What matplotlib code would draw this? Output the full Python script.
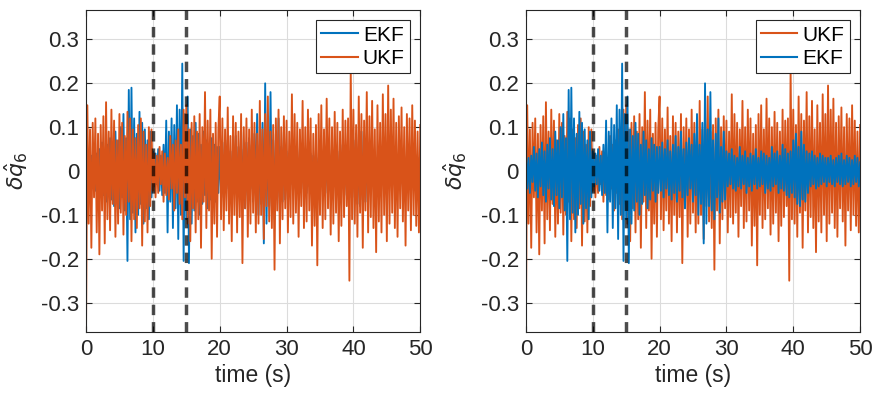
import numpy as np
import matplotlib
matplotlib.use('Agg')
import matplotlib.pyplot as plt

plt.rcParams['font.family'] = ['Liberation Sans', 'DejaVu Sans']

# sampling step of the estimates (s)
dt = 0.2

# estimation error, thousandths
ukf = [
    -367, 150, -120, 95, -175, 110, -60, 120, -140, 85, -190, 105, -90, 125, -165, 157, -110, 90, -135, 140, -75, 115, -150, 70, -120,
    130, -95, 110, -145, 80, -100, 135, -70, 120, -160, 95, -110, 75, -130, 105, -85, 120, -170, 90, -115, 60, -140, 100, -80, 95,
    -45, 40, -60, 35, -50, 55, -30, 45, -70, 40, -55, 30, -65, 80, -40, 60, -90, 70, -50, 95, -75, 60, -110, 140, -60,
    150, -120, 95, -160, 110, -85, 125, -140, 90, -110, 130, -175, 100, -70, 180, -130, 115, -90, 140, -200, 85, -120, 110, -150, 95,
    170, -110, 120, -135, 95, -90, 145, -120, 80, -160, 125, -100, 110, -140, 90, -105, 130, -210, 100, -85, 120, -150, 95, -120, 140,
    -95, 110, -140, 85, -120, 160, -100, 95, -155, 130, -80, 170, -115, 90, -130, 105, -225, 120, -90, 140, -165, 100, -110, 125, -85,
    115, -140, 90, -105, 175, -120, 130, -95, 110, -150, 95, -80, 160, -130, 100, -115, 140, -90, 120, -170, 85, -125, 105, -215, 130,
    -100, 150, -130, 95, -110, 165, -85, 120, -145, 100, -120, 135, -95, 110, -160, 90, -125, 140, -105, 115, -80, 120, -250, 232, -110,
    140, -120, 105, -150, 170, -95, 130, -175, 115, -90, 180, -140, 125, -105, 160, -130, 95, -185, 150, -115, 110, -140, 175, -100, 130,
    -160, 195, -120, 140, -95, 165, -130, 110, -150, 125, -85, 145, -115, 100, -170, 130, -90, 120, -135, 150, -100, 115, -125, 90, -140, 105,
]
ekf = [
    45, -40, 30, -50, 35, -25, 55, -45, 40, -60, 50, -35, 65, -55, 45, -70, 60, -40, 75, -65, 50, -80, 90, -55, 70,
    -85, 100, -60, 130, -90, 75, -205, 185, -110, 190, -95, 120, -140, 85, -100, 135, -75, 110, -120, 95, -85, 70, -110, 90, -60,
    45, -35, 40, -30, 50, -45, 35, -55, 60, -50, 115, -140, 90, -70, 120, -130, 105, -85, 150, -155, 140, -100, 245, -205, 130,
    -110, 170, -210, 95, -120, 80, -90, 110, -70, 85, -100, 60, -75, 90, -55, 70, -85, 50, -65, 75, -45, 60, -70, 55, -50,
    55, -45, 65, -60, 50, -40, 70, -55, 45, -65, 60, -50, 80, -70, 55, -45, 90, -60, 50, -85, 65, -55, 75, -40, 60,
    -70, 85, -55, 130, -100, 60, -75, 110, -165, 200, -120, 95, -80, 180, -90, 70, -110, 85, -60, 120, -95, 55, -70, 90, -65,
    45, -35, 40, -30, 50, -40, 35, -45, 30, -35, 55, -40, 35, -30, 45, -50, 30, -35, 40, -45, 35, -30, 50, -40, 30,
    -35, 45, -30, 40, -50, 35, -40, 30, -45, 55, -35, 40, -30, 45, -50, 35, -40, 60, -45, 50, -55, 40, -60, 45, -50,
    70, -60, 85, -75, 55, -80, 90, -65, 60, -70, 45, -50, 40, -35, 45, -30, 35, -40, 30, -35, 40, -30, 35, -25, 30,
    -35, 30, -25, 35, -30, 25, -35, 30, -25, 35, -30, 40, -35, 25, -30, 35, -25, 30, -35, 25, -30, 35, -25, 30, -35, 20,
]
event_times = [10, 15]
xticks = [0, 10, 20, 30, 40, 50]
yticks = [-0.3, -0.2, -0.1, 0, 0.1, 0.2, 0.3]

ukf = np.array(ukf) / 1000.0
ekf = np.array(ekf) / 1000.0
t = np.arange(len(ukf)) * dt

c_ekf = '#0072BD'
c_ukf = '#D95319'
dark = '#262626'

fig = plt.figure(figsize=(8.75, 3.95), dpi=100)
ax1 = fig.add_axes([0.0983, 0.1595, 0.382, 0.815])
ax2 = fig.add_axes([0.601, 0.1595, 0.382, 0.815])

lw = 1.35
ax1.plot(t, ekf, color=c_ekf, lw=lw, label='EKF')
ax1.plot(t, ukf, color=c_ukf, lw=lw, label='UKF')
ax2.plot(t, ukf, color=c_ukf, lw=lw, label='UKF')
ax2.plot(t, ekf, color=c_ekf, lw=lw, label='EKF')

for ax in (ax1, ax2):
    for te in event_times:
        ax.axvline(te, color='k', alpha=0.7, lw=2.5, dashes=(3, 2), zorder=5)
    ax.set_xlim(0, 50)
    ax.set_ylim(-0.367, 0.367)
    ax.set_xticks(xticks)
    ax.set_yticks(yticks)
    ax.set_yticklabels(['-0.3', '-0.2', '-0.1', '0', '0.1', '0.2', '0.3'])
    ax.grid(True, color='#dcdcdc', lw=0.8)
    ax.set_axisbelow(True)
    ax.tick_params(direction='in', top=True, right=True, labelsize=16,
                   colors=dark, length=4, width=0.8, pad=5)
    for s in ax.spines.values():
        s.set_color(dark)
        s.set_linewidth(0.8)
    ax.set_xlabel('time (s)', fontsize=16.5, color=dark, labelpad=3)
    ax.set_ylabel(r'$\delta\hat{q}_6$', fontsize=16, color=dark, labelpad=8)
    leg = ax.legend(loc='upper right', fontsize=15, fancybox=False,
                    framealpha=1, edgecolor=dark, handlelength=1.75,
                    borderaxespad=0.5, handletextpad=0.25, borderpad=0.25,
                    labelspacing=0.2)
    leg.get_frame().set_linewidth(0.8)
    for h in leg.get_lines():
        h.set_linewidth(1.5)

fig.savefig('out.png', dpi=100)
